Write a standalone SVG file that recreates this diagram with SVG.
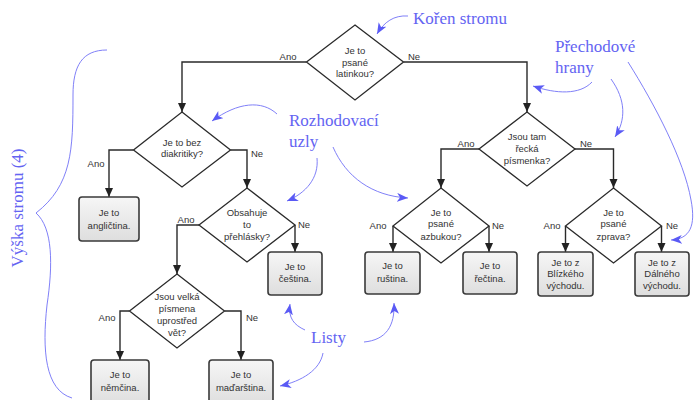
<svg xmlns="http://www.w3.org/2000/svg" width="694" height="400" viewBox="0 0 694 400">
<defs>
<linearGradient id="boxg" x1="0" y1="0" x2="0" y2="1">
<stop offset="0" stop-color="#f6f6f6"/>
<stop offset="1" stop-color="#dedede"/>
</linearGradient>
<marker id="ah" markerUnits="userSpaceOnUse" markerWidth="10" markerHeight="10" refX="9" refY="4" orient="auto">
<path d="M0,0 L9,4 L0,8 z" fill="#222"/>
</marker>
<marker id="bh" markerUnits="userSpaceOnUse" markerWidth="12" markerHeight="10" refX="11" refY="4.5" orient="auto">
<path d="M0,0 L11,4.5 L0,9 L3,4.5 z" fill="#5a5af5"/>
</marker>
<style>
.dia{fill:#fff;stroke:#2a2a2a;stroke-width:1.3}
.box{fill:url(#boxg);stroke:#3a3a3a;stroke-width:1.6}
.t{font-family:"Liberation Sans",Arial,sans-serif;font-size:9.5px;fill:#333;text-anchor:middle}
.lbl{font-family:"Liberation Sans",Arial,sans-serif;font-size:9.5px;fill:#333;text-anchor:middle}
.con{fill:none;stroke:#2a2a2a;stroke-width:1.4;marker-end:url(#ah)}
.ann{font-family:"Liberation Serif","Times New Roman",serif;font-size:17px;fill:#6464f2}
.al{fill:none;stroke:#8080f8;stroke-width:1;marker-end:url(#bh)}
.brace{fill:none;stroke:#8080f8;stroke-width:1}
</style>
</defs>

<g id="connectors">
<path class="con" d="M306.5,62 H182 V112"/>
<path class="con" d="M403.5,62 H527 V112"/>
<path class="con" d="M133.5,150 H109 V197"/>
<path class="con" d="M230.5,150 H247 V188"/>
<path class="con" d="M199,225 H177 V274"/>
<path class="con" d="M295,225 V252"/>
<path class="con" d="M129.5,311 H120 V360"/>
<path class="con" d="M224.5,311 H241 V360"/>
<path class="con" d="M479,149 H441 V188"/>
<path class="con" d="M575,149 H613.5 V188"/>
<path class="con" d="M393,226 V252"/>
<path class="con" d="M489,226 V252"/>
<path class="con" d="M565.5,226 V252"/>
<path class="con" d="M661.5,226 V252"/>
<g id="edge-labels">
<text class="lbl" x="288" y="60">Ano</text>
<text class="lbl" x="414" y="60">Ne</text>
<text class="lbl" x="96" y="167">Ano</text>
<text class="lbl" x="257" y="157">Ne</text>
<text class="lbl" x="186" y="223">Ano</text>
<text class="lbl" x="304" y="228">Ne</text>
<text class="lbl" x="107" y="321">Ano</text>
<text class="lbl" x="252" y="321">Ne</text>
<text class="lbl" x="466" y="147">Ano</text>
<text class="lbl" x="586" y="147">Ne</text>
<text class="lbl" x="378" y="229">Ano</text>
<text class="lbl" x="498" y="229">Ne</text>
<text class="lbl" x="552" y="229">Ano</text>
<text class="lbl" x="672" y="229">Ne</text>
</g>
</g>

<g id="n-root">
<polygon class="dia" points="355,25 403.5,62 355,100 306.5,62"/>
<text class="t" x="355" y="53.5">Je to</text>
<text class="t" x="355" y="65.5">psané</text>
<text class="t" x="355" y="77">latinkou?</text>
</g>
<g id="n-diakritika">
<polygon class="dia" points="182,112 230.5,150 182,187 133.5,150"/>
<text class="t" x="182" y="145.5">Je to bez</text>
<text class="t" x="182" y="157">diakritiky?</text>
</g>
<g id="n-prehlasky">
<polygon class="dia" points="247,188 295,225 247,262 199,225"/>
<text class="t" x="247" y="215.5">Obsahuje</text>
<text class="t" x="247" y="227.5">to</text>
<text class="t" x="247" y="239.5">přehlásky?</text>
</g>
<g id="n-velka">
<polygon class="dia" points="177,274 224.5,311 177,348 129.5,311"/>
<text class="t" x="177" y="300">Jsou velká</text>
<text class="t" x="177" y="312">písmena</text>
<text class="t" x="177" y="324">uprostřed</text>
<text class="t" x="177" y="335.5">vět?</text>
</g>
<g id="n-recka">
<polygon class="dia" points="527,112 575,149 527,186 479,149"/>
<text class="t" x="527" y="139.5">Jsou tam</text>
<text class="t" x="527" y="151.5">řecká</text>
<text class="t" x="527" y="163.5">písmenka?</text>
</g>
<g id="n-azbuka">
<polygon class="dia" points="441,188 489,226 441,263 393,226"/>
<text class="t" x="441" y="215.5">Je to</text>
<text class="t" x="441" y="227">psané</text>
<text class="t" x="441" y="239.5">azbukou?</text>
</g>
<g id="n-zprava">
<polygon class="dia" points="613.5,188 661.5,226 613.5,263 565.5,226"/>
<text class="t" x="613.5" y="215.5">Je to</text>
<text class="t" x="613.5" y="227">psané</text>
<text class="t" x="613.5" y="239.5">zprava?</text>
</g>

<g id="n-anglictina">
<rect class="box" x="79" y="197" width="60" height="44" rx="3"/>
<text class="t" x="109" y="215.5">Je to</text>
<text class="t" x="109" y="228.5">angličtina.</text>
</g>
<g id="n-cestina">
<rect class="box" x="268" y="252" width="54" height="43" rx="3"/>
<text class="t" x="295" y="269.5">Je to</text>
<text class="t" x="295" y="281.5">čeština.</text>
</g>
<g id="n-nemcina">
<rect class="box" x="91" y="360" width="58" height="45" rx="3"/>
<text class="t" x="120" y="377.5">Je to</text>
<text class="t" x="120" y="390.5">němčina.</text>
</g>
<g id="n-madarstina">
<rect class="box" x="209" y="360" width="64" height="45" rx="3"/>
<text class="t" x="241" y="377.5">Je to</text>
<text class="t" x="241" y="390.5">maďarština.</text>
</g>
<g id="n-rustina">
<rect class="box" x="365" y="252" width="55" height="42" rx="3"/>
<text class="t" x="392.5" y="268.5">Je to</text>
<text class="t" x="392.5" y="281.5">ruština.</text>
</g>
<g id="n-rectina">
<rect class="box" x="463" y="252" width="54" height="42" rx="3"/>
<text class="t" x="490" y="268.5">Je to</text>
<text class="t" x="490" y="281.5">řečtina.</text>
</g>
<g id="n-blizky">
<rect class="box" x="538" y="252" width="55" height="44" rx="3"/>
<text class="t" x="565.5" y="265.5">Je to z</text>
<text class="t" x="565.5" y="277">Blízkého</text>
<text class="t" x="565.5" y="288.5">východu.</text>
</g>
<g id="n-dalny">
<rect class="box" x="635" y="252" width="54" height="44" rx="3"/>
<text class="t" x="662" y="265.5">Je to z</text>
<text class="t" x="662" y="277">Dálného</text>
<text class="t" x="662" y="288.5">východu.</text>
</g>

<g id="annotations">
<text class="ann" x="413" y="23.5" font-size="16.5">Kořen stromu</text>
<path class="al" d="M408,16 C394,15 384,22 377,34"/>

<text class="ann" x="289" y="126">Rozhodovací</text>
<text class="ann" x="289" y="147">uzly</text>
<path class="al" d="M277,114 C262,100 238,102 212,121"/>
<path class="al" d="M317,158 C319,178 306,193 287,201"/>
<path class="al" d="M333,147 C346,177 372,196 408,198"/>

<text class="ann" x="555" y="52">Přechodové</text>
<text class="ann" x="555" y="73">hrany</text>
<path class="al" d="M592,82 C580,95 556,94 533,86"/>
<path class="al" d="M611,79 C626,100 626,120 615,137"/>
<path class="al" d="M628,62 C655,105 684,160 691,200 C696,226 690,239 671,240"/>

<text class="ann" x="311" y="343">Listy</text>
<path class="al" d="M305,330 C294,325 288,318 290,304"/>
<path class="al" d="M364,342 C386,340 395,326 394,303"/>
<path class="al" d="M323,353 C320,370 302,381 280,386"/>

<text class="ann" x="23" y="208" text-anchor="middle" transform="rotate(-90 23 208)">Výška stromu (4)</text>
<path class="brace" d="M107,50 C82,50 73,66 73,95 C73,150 72,185 36,213 C53,228 53,265 47,305 C42,350 45,390 72,398"/>
</g>
</svg>
